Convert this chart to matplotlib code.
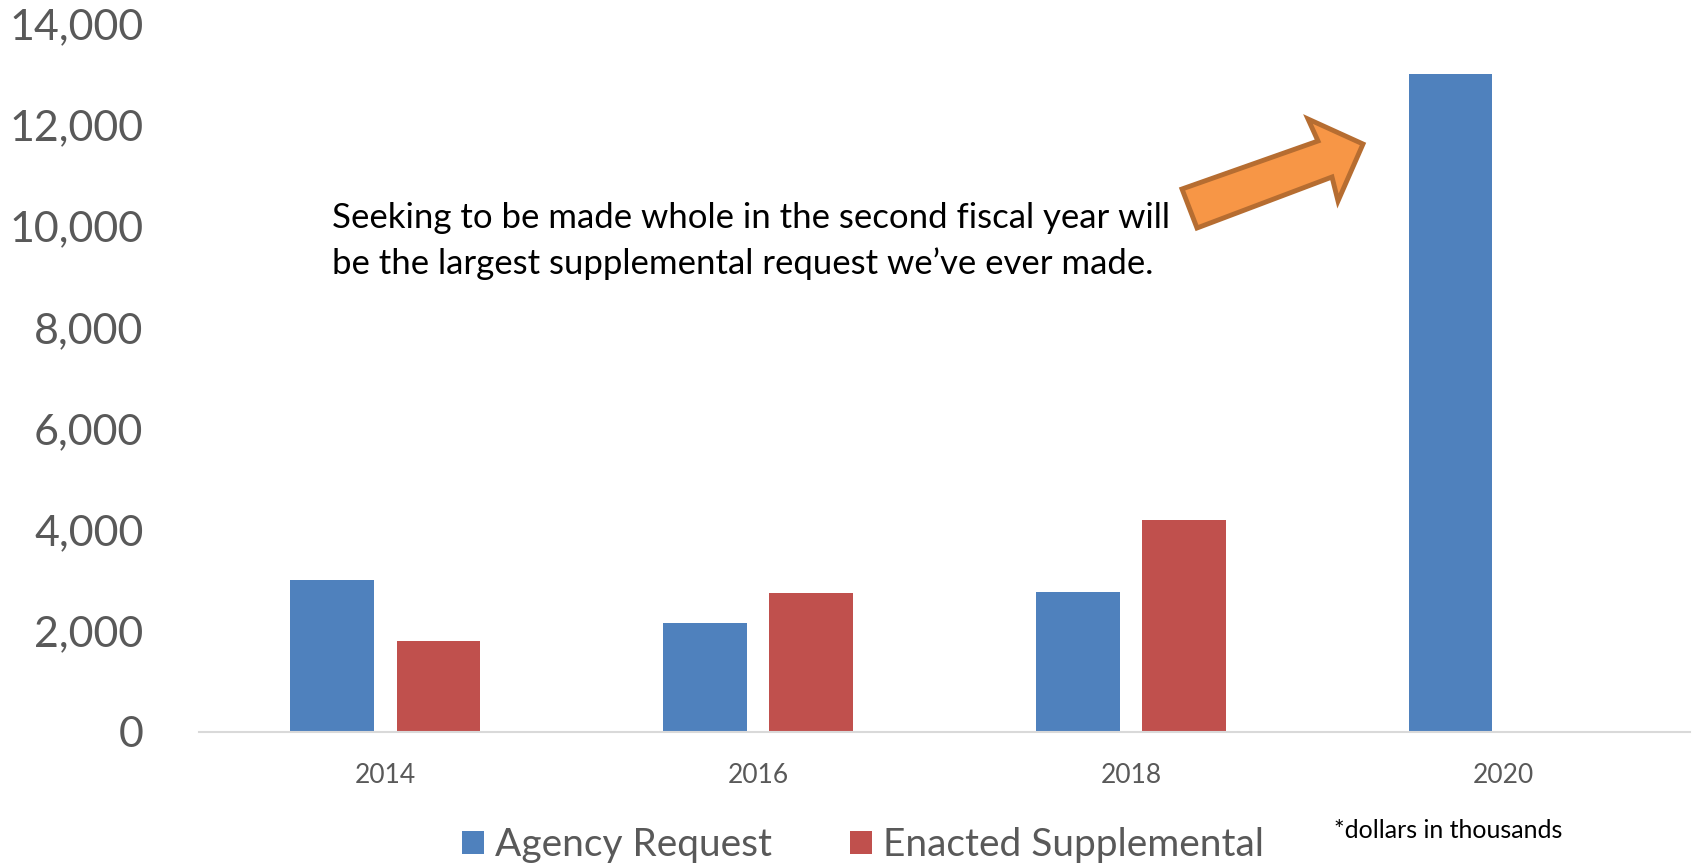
import matplotlib.pyplot as plt
import numpy as np
from matplotlib.patches import Polygon

plt.rcParams['font.family'] = ['Lato', 'DejaVu Sans']

# Data
years = ['2014', '2016', '2018', '2020']
agency_request = [3000, 2160, 2770, 13000]
enacted_supplemental = [1800, 2750, 4200, np.nan]

blue = '#4F81BD'
red = '#C0504D'
grey = '#595959'

fig = plt.figure(figsize=(16.96, 8.64), dpi=100)
ax = fig.add_axes([0.1173, 0.1528, 0.8792, 0.8197])

x = np.arange(len(years))
width = 0.225
off = 0.1425

b1 = ax.bar(x - off, agency_request, width, color=blue, label='Agency Request')
b2 = ax.bar(x + off, enacted_supplemental, width, color=red, label='Enacted Supplemental')

ax.set_xlim(-0.5, 3.5)
ax.set_ylim(0, 14000)
ax.set_yticks(np.arange(0, 14001, 2000))
ax.set_yticklabels([f'{v:,}' for v in range(0, 14001, 2000)])
ax.set_xticks(x)
ax.set_xticklabels(years)

for s in ['top', 'right', 'left']:
    ax.spines[s].set_visible(False)
ax.spines['bottom'].set_color('#D9D9D9')
ax.spines['bottom'].set_linewidth(1.5)

ax.tick_params(axis='y', length=0, pad=40, labelsize=31, labelcolor=grey)
ax.tick_params(axis='x', length=0, pad=22, labelsize=19, labelcolor=grey)

# annotation text
fig.text(332 / 1696, 1 - 241 / 864,
         'Seeking to be made whole in the second fiscal year will\n'
         'be the largest supplemental request we\u2019ve ever made.',
         fontsize=25, color='black', va='center', ha='left', linespacing=1.5)

# orange arrow (pixel coords of the reference, converted to figure fraction)
arrow_px = [(1182, 189), (1318, 141), (1308, 119), (1363, 144),
            (1338, 201), (1332, 177), (1197, 228)]
arrow = Polygon([(px / 1696, 1 - py / 864) for px, py in arrow_px],
                closed=True, transform=fig.transFigure,
                facecolor='#F79646', edgecolor='#B66D31', linewidth=3.5,
                joinstyle='miter')
fig.patches.append(arrow)

# legend
leg = fig.legend(handles=[b1, b2], loc='center', bbox_to_anchor=(0.509, 0.022),
                 ncol=2, frameon=False, fontsize=28, handlelength=0.55,
                 handleheight=0.55, handletextpad=0.3, columnspacing=2.0,
                 labelcolor=grey)

fig.text(1334 / 1696, 1 - 830 / 864, '*dollars in thousands',
         fontsize=18, color='black', va='center', ha='left')

fig.savefig('out.png', dpi=100)
